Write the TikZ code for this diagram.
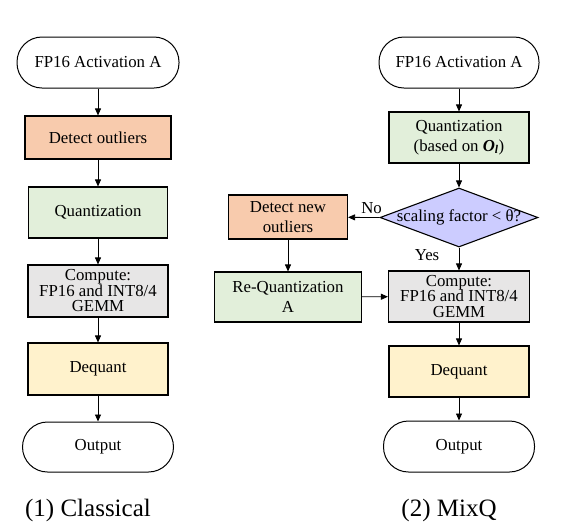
\documentclass[tikz,border=0pt]{standalone}
\usepackage{fontspec}
\setmainfont{Liberation Serif}
\usepackage{tikz}
\usetikzlibrary{shapes.geometric, arrows.meta}
\definecolor{OutlierOrange}{HTML}{F8CBAD}
\definecolor{QuantGreen}{HTML}{E2EFDA}
\definecolor{ComputeGray}{HTML}{E7E6E6}
\definecolor{DequantYellow}{HTML}{FFF2CC}
\definecolor{DecideBlue}{HTML}{CCCCFF}

\begin{document}
\begin{tikzpicture}[x=1pt, y=1pt,
	every node/.style={font=\fontsize{16.8}{20}\selectfont},
	terminal/.style={draw, line width=1pt, rounded corners=25pt, minimum height=51pt, inner sep=0pt},
	procbox/.style={draw, line width=1.1pt, minimum height=51pt, inner sep=0pt, align=center},
	decide/.style={draw, line width=1.1pt, shape=diamond, fill=DecideBlue, minimum width=158pt, minimum height=59pt, inner sep=0pt},
	flowarrow/.style={-{Triangle[length=7pt, width=6pt]}, line width=0.8pt},
	tightlines/.style={font=\fontsize{16.8}{15.5}\selectfont},
]
	\useasboundingbox (0,0) rectangle (567,-531);
	% (1) classical flow
	\node (startL) at (98,-62.5) [terminal, minimum width=162pt] {FP16 Activation A};
	\node (detL) at (98,-137.5) [procbox, fill=OutlierOrange, minimum width=146pt, minimum height=43pt] {Detect outliers};
	\node (quanL) at (98,-212.5) [procbox, fill=QuantGreen, minimum width=139pt] {Quantization};
	\node (compL) at (98,-291) [procbox, tightlines, fill=ComputeGray, minimum width=140pt, minimum height=52pt] {Compute:\\FP16 and INT8/4\\GEMM};
	\node (deqL) at (98,-369) [procbox, fill=DequantYellow, minimum width=140pt, minimum height=52pt] {Dequant};
	\node (outL) at (98,-447) [terminal, minimum width=151pt, minimum height=50pt] {Output};
	\node (capL) at (88,-510) [font=\fontsize{25}{28}\selectfont] {(1) Classical};
	\draw[flowarrow] (startL) -- (detL);
	\draw[flowarrow] (detL) -- (quanL);
	\draw[flowarrow] (quanL) -- (compL);
	\draw[flowarrow] (compL) -- (deqL);
	\draw[flowarrow] (deqL) -- (outL);
	% (2) MixQ flow
	\node (startR) at (459,-62.5) [terminal, minimum width=160pt] {FP16 Activation A};
	\node (quanR) at (459,-137.5) [procbox, fill=QuantGreen, minimum width=140pt] {Quantization\\(based on {\bfseries\itshape O\textsubscript{l}})};
	\node (dec) at (459,-217.5) [decide] {\makebox[0pt]{scaling factor < θ?}};
	\node (newR) at (288,-217) [procbox, fill=OutlierOrange, minimum width=119pt, minimum height=44pt] {Detect new\\outliers};
	\node (reqR) at (288,-297) [procbox, fill=QuantGreen, minimum width=147pt, minimum height=50pt] {Re-Quantization\\A};
	\node (compR) at (459,-296.5) [procbox, tightlines, fill=ComputeGray, minimum width=141pt] {Compute:\\FP16 and INT8/4\\GEMM};
	\node (deqR) at (459,-371.5) [procbox, fill=DequantYellow, minimum width=140pt] {Dequant};
	\node (outR) at (459,-446.5) [terminal, minimum width=151pt] {Output};
	\node (capR) at (449,-510) [font=\fontsize{25}{28}\selectfont] {(2) MixQ};
	\draw[flowarrow] (startR) -- (quanR);
	\draw[flowarrow] (quanR) -- (dec);
	\draw[flowarrow] (dec.west) -- node[pos=0.25, above] {No} (newR);
	\draw[flowarrow] (dec.south) -- node[pos=0.33, left=16pt] {Yes} (compR);
	\draw[flowarrow] (newR) -- (reqR);
	\draw[flowarrow] (reqR) -- (compR);
	\draw[flowarrow] (compR) -- (deqR);
	\draw[flowarrow] (deqR) -- (outR);
\end{tikzpicture}
\end{document}
